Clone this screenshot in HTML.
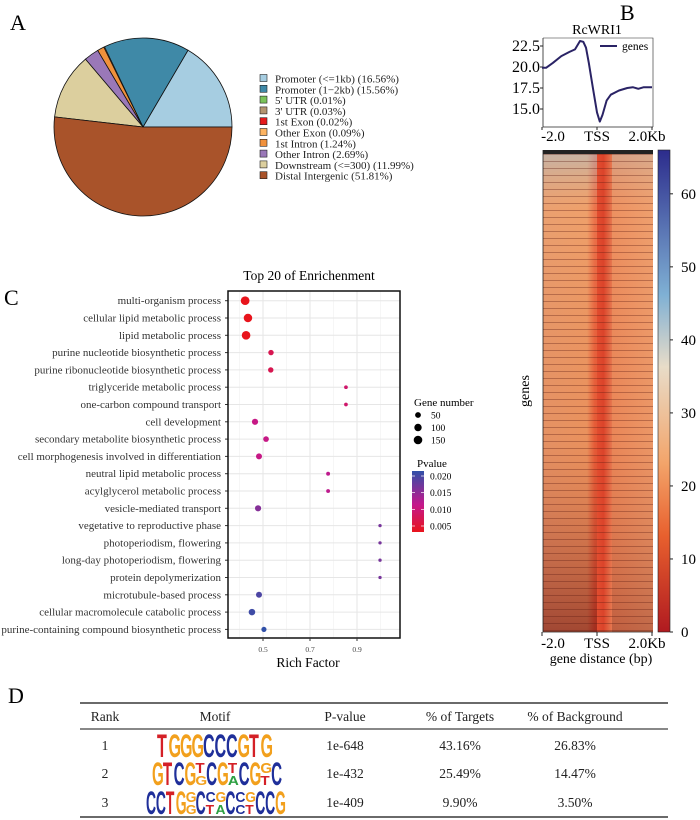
<!DOCTYPE html>
<html><head><meta charset="utf-8"><style>
body{margin:0;background:#fff;font-family:"Liberation Serif",serif;}
#root{position:relative;width:700px;height:820px;overflow:hidden;}
</style></head><body><div id="root">
<svg id="svg" width="700" height="820" xmlns="http://www.w3.org/2000/svg" font-family="Liberation Serif, serif">
<defs>
<linearGradient id="hmH" x1="0" x2="1" y1="0" y2="0">
<stop offset="0" stop-color="#e89a6a"/><stop offset="0.4" stop-color="#ee9a62"/><stop offset="0.47" stop-color="#ea5a35"/><stop offset="0.55" stop-color="#e04a2c"/><stop offset="0.63" stop-color="#ec8a5a"/><stop offset="1" stop-color="#ee9c6a"/></linearGradient>
<linearGradient id="hmV" x1="0" x2="0" y1="0" y2="1">
<stop offset="0" stop-color="#a8c8d8" stop-opacity="0.6"/><stop offset="0.12" stop-color="#f0b080" stop-opacity="0.3"/><stop offset="0.6" stop-color="#d06040" stop-opacity="0.15"/><stop offset="1" stop-color="#701010" stop-opacity="0.6"/></linearGradient>
<pattern id="stripes" width="4" height="7" patternUnits="userSpaceOnUse"><rect width="4" height="1" fill="#5a1a10" opacity="0.35"/></pattern>
<linearGradient id="cbar" x1="0" x2="0" y1="1" y2="0">
<stop offset="0" stop-color="#b01a20"/><stop offset="0.2" stop-color="#e8602e"/><stop offset="0.35" stop-color="#f3a46a"/><stop offset="0.55" stop-color="#e8dcc8"/><stop offset="0.7" stop-color="#7fb0d4"/><stop offset="1" stop-color="#2c2c8c"/></linearGradient>
<linearGradient id="pbar" x1="0" x2="0" y1="1" y2="0">
<stop offset="0" stop-color="#e8141c"/><stop offset="0.45" stop-color="#c4188c"/><stop offset="1" stop-color="#3050a8"/></linearGradient>
</defs>
<g id="A"></g>
<g id="B"></g>
<g id="C"></g>
<g id="D"></g>
</svg>
</div>
<script>
const NS="http://www.w3.org/2000/svg";
function mk(parent,tag,attrs,text){const e=document.createElementNS(NS,tag);for(const k in attrs)e.setAttribute(k,attrs[k]);if(text!==undefined)e.textContent=text;parent.appendChild(e);return e;}

// ---------- Panel A data ----------
const pieLabels=["Promoter (<=1kb) (16.56%)","Promoter (1\u22122kb) (15.56%)","5' UTR (0.01%)","3' UTR (0.03%)","1st Exon (0.02%)","Other Exon (0.09%)","1st Intron (1.24%)","Other Intron (2.69%)","Downstream (<=300) (11.99%)","Distal Intergenic (51.81%)"];
const pieValues=[16.56,15.56,0.01,0.03,0.02,0.09,1.24,2.69,11.99,51.81];
const pieColors=["#a6cde1","#3f89a7","#7ac25a","#b39470","#e41a1c","#fdb462","#f0913c","#9a78b8","#dccf9e","#a9532a"];

// ---------- Panel B data ----------
const profX=[-2,-1.85,-1.6,-1.3,-1.0,-0.8,-0.62,-0.5,-0.4,-0.3,-0.15,0,0.1,0.2,0.35,0.5,0.8,1.1,1.3,1.5,1.7,2];
const profY=[19.9,19.9,20.5,21.3,21.8,22.1,23.1,23.0,22.3,20.5,17.5,14.6,13.5,14.3,16.0,16.7,17.2,17.5,17.6,17.4,17.6,17.6];
const profTicks=[22.5,20.0,17.5,15.0];
const cbTicks=[0,10,20,30,40,50,60];

// ---------- Panel C data ----------
const terms=["multi-organism process","cellular lipid metabolic process","lipid metabolic process","purine nucleotide biosynthetic process","purine ribonucleotide biosynthetic process","triglyceride metabolic process","one-carbon compound transport","cell development","secondary metabolite biosynthetic process","cell morphogenesis involved in differentiation","neutral lipid metabolic process","acylglycerol metabolic process","vesicle-mediated transport","vegetative to reproductive phase","photoperiodism, flowering","long-day photoperiodism, flowering","protein depolymerization","microtubule-based process","cellular macromolecule catabolic process","purine-containing compound biosynthetic process"];
const richFactor=[0.424,0.436,0.428,0.534,0.533,0.853,0.853,0.466,0.513,0.483,0.777,0.777,0.479,0.998,0.998,0.998,0.998,0.483,0.453,0.504];
const geneNumber=[155,145,150,40,40,10,10,60,45,55,12,12,60,6,6,6,6,55,70,35];
const pvalue=[0.003,0.003,0.003,0.007,0.007,0.009,0.009,0.011,0.011,0.011,0.012,0.012,0.016,0.017,0.017,0.017,0.017,0.020,0.021,0.022];
const xTicks=[0.5,0.7,0.9];
const sizeLegend=[50,100,150];
const pTicks=[0.020,0.015,0.010,0.005];

// ---------- Panel D data ----------
const tRank=["1","2","3"];
const tMotif=["TGGGCCCGTG","GTCGTCGTCGGC","CCTGGCCGCCGCCG"];
const tP=["1e-648","1e-432","1e-409"];
const tTarg=["43.16%","25.49%","9.90%"];
const tBg=["26.83%","14.47%","3.50%"];

const svg=document.getElementById('svg');
[["A",10,30],["B",620,20],["C",4,305],["D",8,703]].forEach(([t,x,y])=>{const e=mk(svg,'text',{x:x,y:y,'font-size':22},t);

});

// ===== A =====
(function(){const g=document.getElementById('A');const cx=143,cy=127,r=89;const tot=pieValues.reduce((a,b)=>a+b,0);let a0=0;
pieValues.forEach((v,i)=>{const a1=a0+v/tot*2*Math.PI;const x0=cx+r*Math.cos(a0),y0=cy-r*Math.sin(a0),x1=cx+r*Math.cos(a1),y1=cy-r*Math.sin(a1);
const large=(a1-a0)>Math.PI?1:0;const p=mk(g,'path',{d:`M${cx},${cy}L${x0},${y0}A${r},${r} 0 ${large} 0 ${x1},${y1}Z`,fill:pieColors[i],stroke:'#111','stroke-width':v<0.5?0.3:0.8});

a0=a1;});
pieLabels.forEach((l,i)=>{const y=78.5+i*10.8;const s=mk(g,'rect',{x:260,y:y-4,width:7,height:7,fill:pieColors[i],stroke:'#222','stroke-width':0.6});


const t=mk(g,'text',{x:275,y:y+4,'font-size':11,fill:'#222'},l);

});})();

// ===== B =====
(function(){const g=document.getElementById('B');const X=v=>597+v*27.5;const Y=v=>46+(22.5-v)*8.4;
mk(g,'text',{x:597,y:34,'font-size':14,'text-anchor':'middle'},'RcWRI1');
const ax=mk(g,'path',{d:'M543,38V127H653',fill:'none',stroke:'#222','stroke-width':0.8});


mk(g,'path',{d:'M543,38H653V127',fill:'none',stroke:'#222','stroke-width':0.6});
profTicks.forEach(v=>{mk(g,'line',{x1:540,x2:543,y1:Y(v),y2:Y(v),stroke:'#222'});const t=mk(g,'text',{x:540,y:Y(v)+5,'font-size':16,'text-anchor':'end'},v.toFixed(1));

});
[[-2,'-2.0'],[0,'TSS'],[2,'2.0Kb']].forEach(([v,l])=>{mk(g,'line',{x1:X(v),x2:X(v),y1:127,y2:130,stroke:'#222'});mk(g,'text',{x:X(v)+(v==-2?11:v==2?-5:0),y:141,'font-size':15,'text-anchor':'middle'},l);});
const d=profX.map((x,i)=>(i?'L':'M')+X(x).toFixed(1)+','+Y(profY[i]).toFixed(1)).join('');
const line=mk(g,'path',{d:d,fill:'none',stroke:'#2a2365','stroke-width':2,'stroke-linejoin':'round'});


mk(g,'line',{x1:600,x2:617,y1:46,y2:46,stroke:'#2a2365','stroke-width':2});
mk(g,'text',{x:622,y:50,'font-size':11.5},'genes');
const hm=mk(g,'g',{});
mk(hm,'rect',{x:543,y:150,width:110,height:482,fill:'url(#hmH)'});
mk(hm,'rect',{x:543,y:150,width:54,height:482,fill:'url(#hmV)'});
mk(hm,'rect',{x:612,y:150,width:41,height:482,fill:'url(#hmV)',opacity:0.6});
mk(hm,'rect',{x:597,y:150,width:15,height:482,fill:'#c02020',opacity:0.15});
mk(hm,'rect',{x:543,y:150,width:110,height:482,fill:'url(#stripes)'});
mk(hm,'rect',{x:543,y:150,width:110,height:4,fill:'#222'});
mk(g,'path',{d:'M543,150V632H653',fill:'none',stroke:'#222','stroke-width':0.8});
[[-2,'-2.0'],[0,'TSS'],[2,'2.0Kb']].forEach(([v,l])=>{mk(g,'line',{x1:X(v),x2:X(v),y1:632,y2:636,stroke:'#222'});mk(g,'text',{x:X(v)+(v==-2?11:v==2?-5:0),y:648,'font-size':15,'text-anchor':'middle'},l);});
mk(g,'text',{x:601,y:663,'font-size':14,'text-anchor':'middle'},'gene distance (bp)');
const gl=mk(g,'text',{x:529,y:391,'font-size':14,'text-anchor':'middle',transform:'rotate(-90 529 391)'},'genes');

const cb=mk(g,'rect',{x:658,y:150,width:12,height:482,fill:'url(#cbar)',stroke:'#222','stroke-width':0.6});

const CY=v=>632-v/66*482;
cbTicks.forEach(v=>{mk(g,'line',{x1:670,x2:673,y1:CY(v),y2:CY(v),stroke:'#222'});mk(g,'text',{x:681,y:CY(v)+5,'font-size':15},String(v));});})();

// ===== C =====
(function(){const g=document.getElementById('C');const X=v=>263+(v-0.5)*235;const Y=i=>300.7+i*17.3;
mk(g,'text',{x:309,y:280,'font-size':13.5,'text-anchor':'middle'},'Top 20 of Enrichenment');
mk(g,'rect',{x:228,y:291,width:172,height:347,fill:'#fff'});
[0.4,0.6,0.8,1.0].forEach(v=>mk(g,'line',{x1:X(v),x2:X(v),y1:291,y2:638,stroke:'#f2f2f2','stroke-width':0.7}));
[0.5,0.7,0.9].forEach(v=>mk(g,'line',{x1:X(v),x2:X(v),y1:291,y2:638,stroke:'#e6e6e6','stroke-width':1}));
terms.forEach((t,i)=>{mk(g,'line',{x1:228,x2:400,y1:Y(i),y2:Y(i),stroke:'#e6e6e6','stroke-width':1});
mk(g,'line',{x1:225,x2:228,y1:Y(i),y2:Y(i),stroke:'#333'});
const tl=mk(g,'text',{x:221,y:Y(i)+3.5,'font-size':11,'text-anchor':'end',fill:'#333'},t);

});
const col=p=>{const f=Math.max(0,Math.min(1,(p-0.003)/(0.022-0.003)));const c1=[232,20,28],c2=[196,24,140],c3=[48,80,168];let a,b,u;if(f<0.45){a=c1;b=c2;u=f/0.45}else{a=c2;b=c3;u=(f-0.45)/0.55}return `rgb(${a.map((v,k)=>Math.round(v+(b[k]-v)*u)).join(',')})`;};
const R=n=>1+Math.sqrt(n)*0.27;
terms.forEach((t,i)=>{const c=mk(g,'circle',{cx:X(richFactor[i]),cy:Y(i),r:R(geneNumber[i]),fill:col(pvalue[i])});

});
mk(g,'rect',{x:228,y:291,width:172,height:347,fill:'none',stroke:'#111','stroke-width':1.5});
xTicks.forEach(v=>{mk(g,'line',{x1:X(v),x2:X(v),y1:638,y2:641,stroke:'#333'});mk(g,'text',{x:X(v),y:652,'font-size':7.5,'text-anchor':'middle',fill:'#444'},v.toFixed(1));});
const xt=mk(g,'text',{x:308,y:667,'font-size':13.5,'text-anchor':'middle'},'Rich Factor');

mk(g,'text',{x:414,y:406,'font-size':11},'Gene number');
sizeLegend.forEach((n,k)=>{const y=415+k*12.5;mk(g,'circle',{cx:418,cy:y,r:R(n),fill:'#000'});mk(g,'text',{x:431,y:y+3.5,'font-size':9.5},String(n));});
mk(g,'text',{x:417,y:467,'font-size':11},'Pvalue');
const pb=mk(g,'rect',{x:412,y:471,width:12,height:61,fill:'url(#pbar)'});

const PY=p=>531-(p-0.0035)/(0.0215-0.0035)*60;
pTicks.forEach(p=>{mk(g,'line',{x1:412,x2:415,y1:PY(p),y2:PY(p),stroke:'#fff','stroke-width':0.7});mk(g,'line',{x1:421,x2:424,y1:PY(p),y2:PY(p),stroke:'#fff','stroke-width':0.7});mk(g,'text',{x:430,y:PY(p)+3.5,'font-size':9.5},p.toFixed(3));});})();

// ===== D =====
(function(){const g=document.getElementById('D');
[[703,1.3],[729,1],[817,1.3]].forEach(([y,w])=>mk(g,'line',{x1:80,x2:668,y1:y,y2:y,stroke:'#111','stroke-width':w}));
const cx=[105,215,345,460,575];
["Rank","Motif","P-value","% of Targets","% of Background"].forEach((h,k)=>{const t=mk(g,'text',{x:cx[k],y:721,'font-size':13.5,'text-anchor':'middle',fill:'#222'},h);

});
const ry=[750,778,807];
const lc={T:'#d42027',G:'#f2a01d',C:'#1f2f9a',A:'#2ea043'};
const mx=[[157,272],[152,282],[146,285]];
tRank.forEach((r,i)=>{const y=ry[i];
[[0,r],[2,tP[i]],[3,tTarg[i]],[4,tBg[i]]].forEach(([k,v])=>{const t=mk(g,'text',{x:cx[k],y:y,'font-size':13.5,'text-anchor':'middle',fill:'#222'},v);

});
const m=tMotif[i];const w=(mx[i][1]-mx[i][0])/m.length;
const lg=mk(g,'g',{});
[...m].forEach((ch,j)=>{const small=(i==2&&[4,5,6,7,8,9,10,11].includes(j)&&j%3!=2)||(i==1&&[4,7,10].includes(j));
const h=small?11:24;const x=mx[i][0]+j*w;const base=y+7;
mk(lg,'text',{x:0,y:0,'font-size':14,'font-family':'Liberation Sans, sans-serif','font-weight':'bold',fill:lc[ch],transform:`translate(${x},${base-(small?12:0)}) scale(${w/10},${h/10.3})`},ch);
if(small){const c2=['G','C','T','A'][j%4];mk(lg,'text',{x:0,y:0,'font-size':14,'font-family':'Liberation Sans, sans-serif','font-weight':'bold',fill:lc[c2],transform:`translate(${x},${base}) scale(${w/10},${0.9})`},c2);}
});});})();
</script></body></html>
